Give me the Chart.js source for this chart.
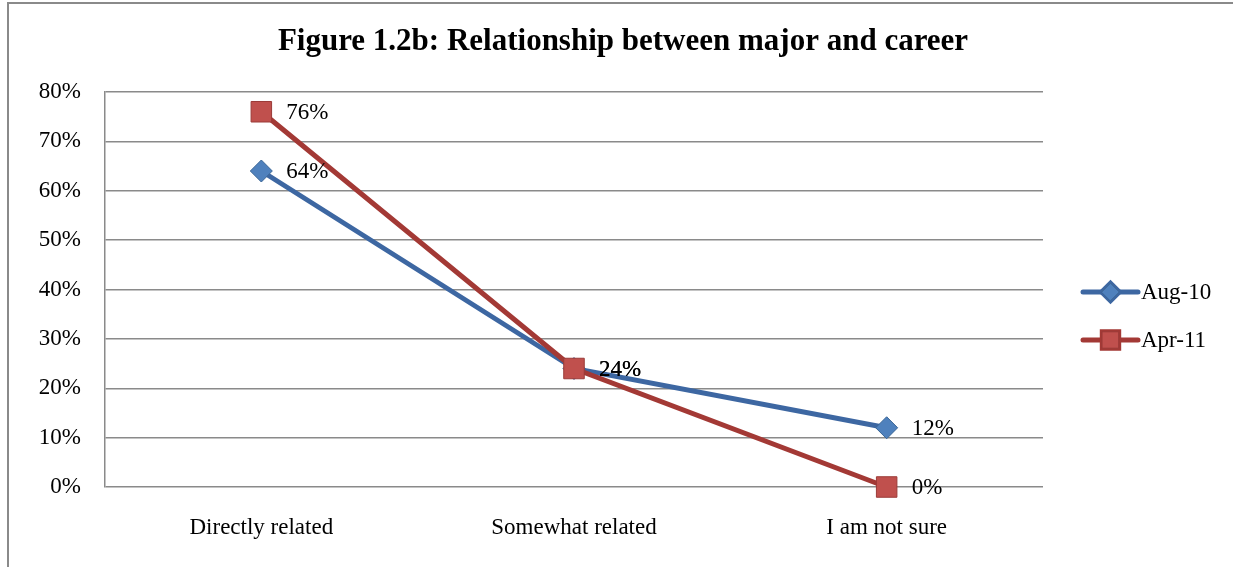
<!DOCTYPE html>
<html>
<head>
<meta charset="utf-8">
<script src="https://cdn.jsdelivr.net/npm/chart.js@4.4.1/dist/chart.umd.min.js"></script>
<style>
  html, body { margin: 0; padding: 0; background: #fff; }
  #wrap { position: relative; width: 1233px; height: 567px; }
</style>
</head>
<body>
<div id="wrap"><canvas id="chart" width="1233" height="567"></canvas></div>
<script>
// data
const kategori = ['Directly related', 'Somewhat related', 'I am not sure'];
const aug10 = [64, 24, 12];
const apr11 = [76, 24, 0];
const labelSeri = ['Aug-10', 'Apr-11'];
const judul = 'Figure 1.2b: Relationship between major and career';

const serif = "'Liberation Serif', 'DejaVu Serif', serif";
const abu = '#8a8a8a';

// frame (left + top only, the rest is cropped in the original)
const bingkai = {
    id: 'bingkai',
    beforeDraw(chart) {
        const c = chart.ctx;
        c.save();
        c.strokeStyle = abu;
        c.lineWidth = 2;
        c.beginPath();
        c.moveTo(8, chart.height);
        c.lineTo(8, 3);
        c.lineTo(chart.width, 3);
        c.stroke();
        // title
        c.fillStyle = '#000';
        c.font = "bold 31px " + serif;
        c.textAlign = 'center';
        c.textBaseline = 'middle';
        c.fillText(judul, 623, 42);
        c.restore();
    }
};

// value labels right of each point
const labelNilai = {
    id: 'labelNilai',
    afterDatasetsDraw(chart) {
        const c = chart.ctx;
        c.save();
        c.font = "23px " + serif;
        c.fillStyle = '#000';
        c.textAlign = 'left';
        c.textBaseline = 'middle';
        chart.data.datasets.forEach((ds, i) => {
            chart.getDatasetMeta(i).data.forEach((pt, j) => {
                c.fillText(ds.data[j] + '%', pt.x + 25, pt.y + 1);
            });
        });
        c.restore();
    }
};

// legend: line + marker like the office style
const legendaKanan = {
    id: 'legendaKanan',
    afterDraw(chart) {
        const c = chart.ctx;
        const x0 = 1083, x1 = 1138;
        const ys = [292, 340];
        c.save();
        chart.data.datasets.forEach((ds, i) => {
            const y = ys[i];
            c.strokeStyle = ds.borderColor;
            c.lineWidth = 5;
            c.lineCap = 'round';
            c.beginPath();
            c.moveTo(x0, y);
            c.lineTo(x1, y);
            c.stroke();
            Chart.helpers.drawPoint(c, {
                pointStyle: ds.pointStyle,
                radius: ds.pointRadius * 0.8,
                borderWidth: 1
            }, (x0 + x1) / 2, y);
            c.fillStyle = ds.pointBackgroundColor;
            c.strokeStyle = ds.pointBorderColor;
            c.lineWidth = 1;
            c.fill();
            c.stroke();
            c.fillStyle = '#000';
            c.font = "23px " + serif;
            c.textAlign = 'left';
            c.textBaseline = 'middle';
            c.fillText(ds.label, 1141, y + 1);
        });
        c.restore();
    }
};

new Chart(document.getElementById('chart'), {
    type: 'line',
    data: {
        labels: kategori,
        datasets: [{
            label: labelSeri[0],
            data: aug10,
            order: 1,
            clip: false,
            borderColor: '#3d67a2',
            borderWidth: 5,
            pointStyle: 'rectRot',
            pointRadius: 11,
            pointBackgroundColor: '#4f81bd',
            pointBorderColor: '#3a6595',
            pointBorderWidth: 1
        }, {
            label: labelSeri[1],
            data: apr11,
            order: 0,
            clip: false,
            borderColor: '#a33935',
            borderWidth: 5,
            pointStyle: 'rect',
            pointRadius: 14.5,
            pointBackgroundColor: '#c0504d',
            pointBorderColor: '#9b3b38',
            pointBorderWidth: 1
        }]
    },
    options: {
        responsive: false,
        animation: false,
        layout: { padding: { top: 92, right: 190, left: 0, bottom: 0 } },
        plugins: {
            legend: { display: false },
            title: { display: false },
            tooltip: { enabled: false }
        },
        scales: {
            x: {
                offset: true,
                grid: { display: false, drawTicks: false },
                border: { display: false },
                ticks: { color: '#000', font: { family: serif, size: 23 }, padding: 27 },
                afterFit(s) { s.height = 80; }
            },
            y: {
                min: 0,
                max: 80,
                grid: { color: abu, lineWidth: 1.5, drawTicks: false },
                border: { color: abu, width: 1.5 },
                ticks: {
                    stepSize: 10,
                    color: '#000',
                    padding: 24,
                    font: { family: serif, size: 23 },
                    callback: v => v + '%'
                },
                afterFit(s) { s.width = 105; }
            }
        }
    },
    plugins: [bingkai, labelNilai, legendaKanan]
});
</script>
</body>
</html>
